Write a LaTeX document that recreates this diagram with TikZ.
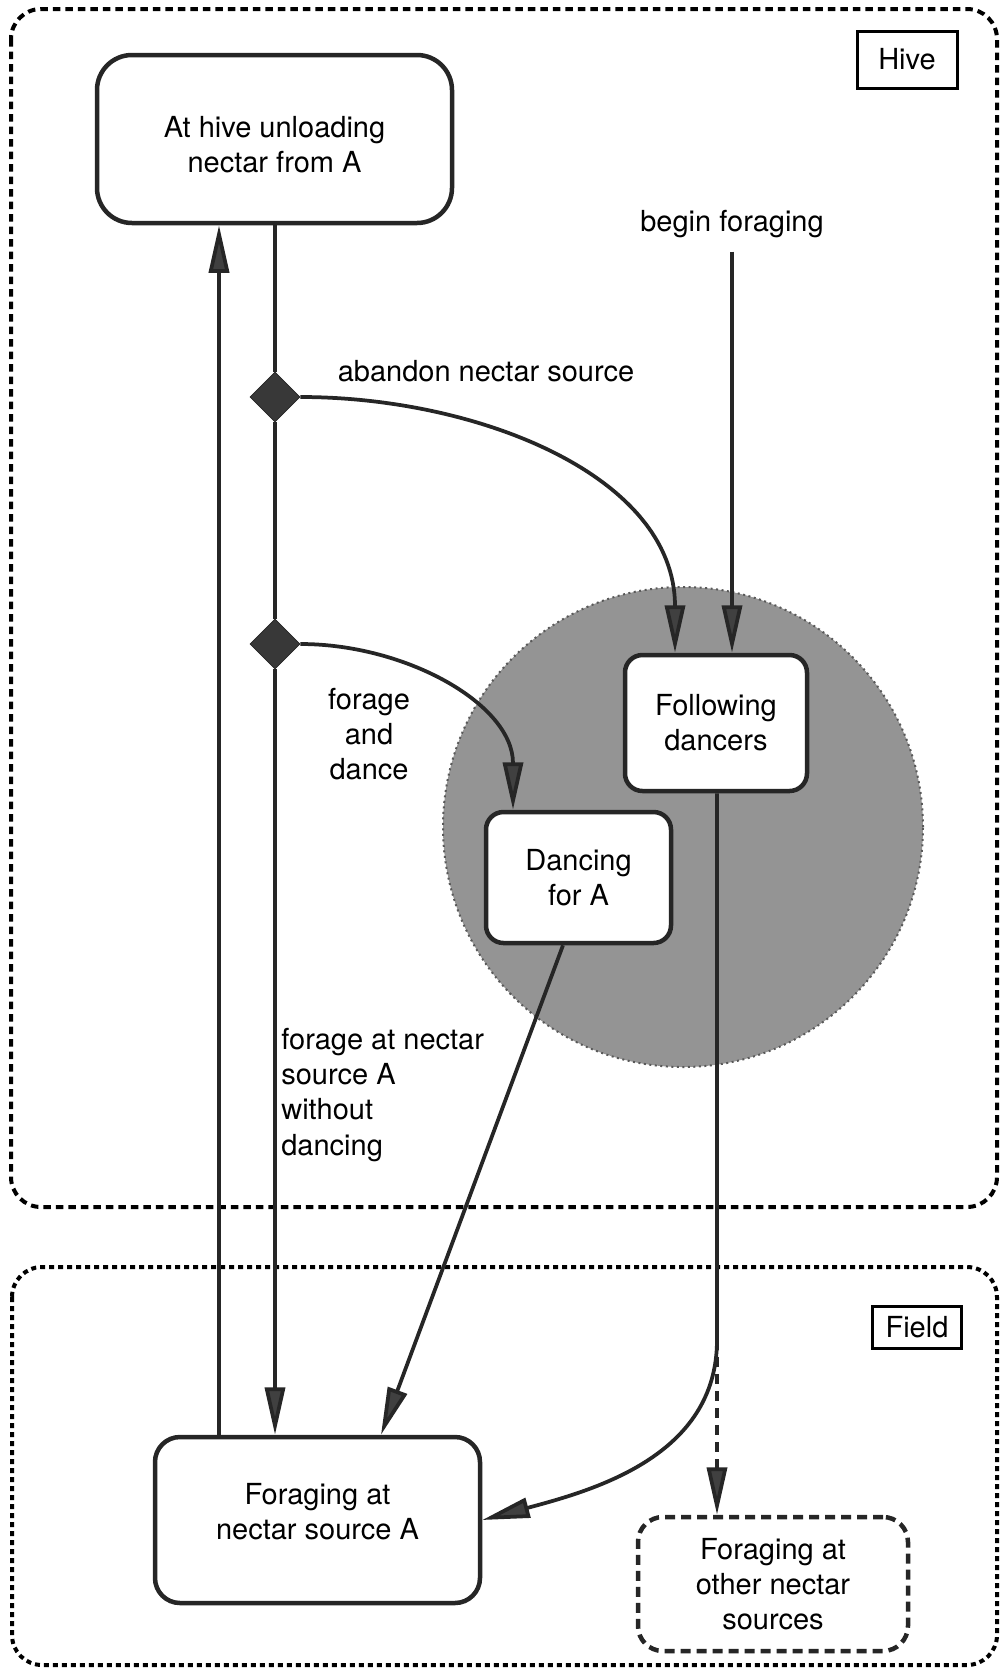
\documentclass[tikz,border=0pt]{standalone}
\usepackage{fontspec}
\setmainfont{TeX Gyre Heros}
\usetikzlibrary{shapes.geometric,arrows.meta,positioning}

\begin{document}
\begin{tikzpicture}
        \tikzset{
            sbox/.style={rectangle, rounded corners=0.35cm, draw=black!85, line width=0.09cm,
            fill=white, align=center, font=\fontsize{16.5}{20}\selectfont},
            dbox/.style={sbox, dash pattern=on 0.2cm off 0.12cm},
            reg/.style={draw=black, line width=0.08cm, rounded corners=0.6cm},
            tag/.style={rectangle, draw=black, line width=0.06cm, inner sep=0,
            font=\fontsize{16.5}{20}\selectfont},
            choice/.style={diamond, minimum size=1cm, inner sep=0, fill=black!78, draw=black!85},
            txt/.style={inner sep=0, align=center, font=\fontsize{16.5}{20}\selectfont},
            c1/.style={line width=0.075cm, draw=black!85,
            -{Triangle[length=0.95cm, width=0.4cm, fill=black!75]}},
            c2/.style={c1, dash pattern=on 0.2cm off 0.14cm},
            c3/.style={line width=0.075cm, draw=black!85}
            }

            \useasboundingbox (0,0) rectangle (20,-33.5);

            % hive and field
            \draw[reg, dash pattern=on 0.15cm off 0.1cm] (0.22,-0.18) rectangle (19.94,-24.14);
            \draw[reg, dash pattern=on 0.1cm off 0.08cm] (0.24,-25.34) rectangle (19.94,-33.3);
            \node[tag, minimum width=2cm, minimum height=1.14cm] (hivetag) at (18.14,-1.19) {Hive};
            \node[tag, minimum width=1.78cm, minimum height=0.84cm] (fieldtag) at (18.34,-26.54) {Field};

            \node[circle, minimum size=9.6cm, fill=black!42, draw=black!65, dotted,
            line width=0.04cm] (floor) at (13.66,-16.54) {};

            \node[sbox, rounded corners=0.7cm, minimum width=7.1cm, minimum height=3.36cm] (unload) at (5.49,-2.78) {\rule{0pt}{0.65cm}At hive unloading\\nectar from A};
            \node[sbox, minimum width=3.64cm, minimum height=2.72cm] (follow) at (14.32,-14.46) {Following\\dancers};
            \node[sbox, minimum width=3.7cm, minimum height=2.62cm] (dance) at (11.57,-17.55) {Dancing\\for A};
            \node[sbox, rounded corners=0.5cm, minimum width=6.5cm, minimum height=3.32cm] (forA) at (6.35,-30.4) {Foraging at\\nectar source A\\[-10pt]};
            \node[dbox, rounded corners=0.5cm, minimum width=5.4cm, minimum height=2.68cm] (other) at (15.46,-31.68) {Foraging at\\other nectar\\sources};

            \node[choice] (d1) at (5.5,-7.94) {};
            \node[choice] (d2) at (5.5,-12.88) {};

            \node[txt] (begin) at (14.64,-4.48) {begin foraging};
            \node[txt] (aband) at (9.72,-7.42) {abandon nectar source};
            \node[txt] (fdance) at (7.38,-14.68) {forage\\and\\dance};
            \node[txt, align=left, anchor=north west] (nodance) at (5.62,-20.56) {forage at nectar\\source A\\without\\dancing};

            \coordinate (upx) at (4.38,0);
            \coordinate (split) at (14.34,-26.8);

            \draw[c3] (unload.south -| d1) -- (d1.north);
            \draw[c3] (d1.south) -- (d2.north);
            \draw[c1] (d2.south) -- (d2 |- forA.north);
            \draw[c1] (forA.north -| upx) -- (unload.south -| upx);
            \draw[c1] ([yshift=-0.27cm]begin.south) -- (begin.south |- follow.north);
            \draw[c1] (d1.east) to[out=0, in=90] ([xshift=-0.82cm]follow.north);
            \draw[c1] (d2.east) to[out=0, in=90] ([xshift=-1.31cm]dance.north);
            \draw[c1] ([xshift=-0.31cm]dance.south) -- ([xshift=1.27cm]forA.north);
            \draw[c1] (follow.south -| split) -- (split) to[out=-90, in=15] (forA.east);
            \draw[c2] (split) -- (split |- other.north);
        \end{tikzpicture}
\end{document}
